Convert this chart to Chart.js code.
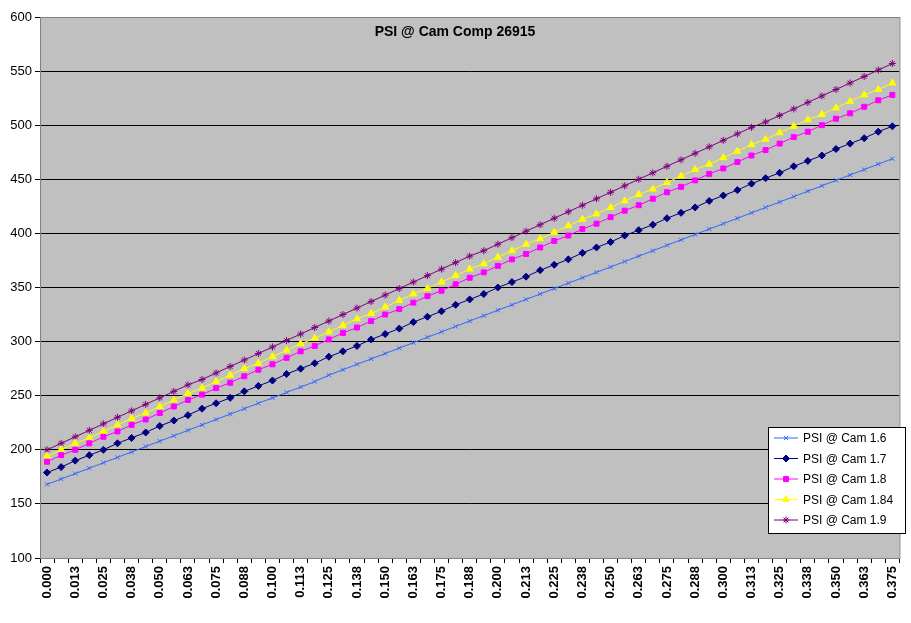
<!DOCTYPE html>
<html><head><script src="https://cdn.jsdelivr.net/npm/chart.js@4"></script>
<style>body{margin:0;background:#fff}#w{width:911px;height:623px}</style></head>
<body><div id="w"><canvas id="c"></canvas></div>
<script>
const categories = ["0.000","0.006","0.013","0.019","0.025","0.031","0.038","0.044","0.050","0.056","0.063","0.069","0.075","0.081","0.088","0.094","0.100","0.106","0.113","0.119","0.125","0.131","0.138","0.144","0.150","0.156","0.163","0.169","0.175","0.181","0.188","0.194","0.200","0.206","0.213","0.219","0.225","0.231","0.238","0.244","0.250","0.256","0.263","0.269","0.275","0.281","0.288","0.294","0.300","0.306","0.313","0.319","0.325","0.331","0.338","0.344","0.350","0.356","0.363","0.369","0.375"];
const cam16 = [168,173,178,183,188,193,198,203,208,213,218,223,228,233,238,243,248,253,258,263,269,274,279,284,289,294,299,304,309,314,319,324,329,334,339,344,349,354,359,364,369,374,379,384,389,394,399,404,409,414,419,424,429,434,439,444,449,454,459,464,469];
const cam17 = [179,184,190,195,200,206,211,216,222,227,232,238,243,248,254,259,264,270,275,280,286,291,296,302,307,312,318,323,328,334,339,344,350,355,360,366,371,376,382,387,392,398,403,408,414,419,424,430,435,440,446,451,456,462,467,472,478,483,488,494,499];
const cam18 = [189,195,200,206,212,217,223,228,234,240,246,251,257,262,268,274,279,285,291,296,302,308,313,319,325,330,336,342,347,353,359,364,370,376,381,387,393,398,404,409,415,421,426,432,438,443,449,455,460,466,472,477,483,489,494,500,506,511,517,523,528];
const cam184 = [194,200,206,211,217,223,229,234,240,246,252,257,263,269,275,280,286,292,298,303,309,315,321,326,332,338,344,349,355,361,367,372,378,384,390,395,401,407,413,418,424,430,436,441,447,453,459,464,470,476,482,487,493,499,505,510,516,522,528,533,539];
const cam19 = [200,206,212,218,224,230,236,242,248,254,260,265,271,277,283,289,295,301,307,313,319,325,331,337,343,349,355,361,367,373,379,384,390,396,402,408,414,420,426,432,438,444,450,456,462,468,474,480,486,492,498,503,509,515,521,527,533,539,545,551,557];
const seriesNames = ["PSI @ Cam 1.6","PSI @ Cam 1.7","PSI @ Cam 1.8","PSI @ Cam 1.84","PSI @ Cam 1.9"];
const styles = [
 {c:'#3366FF',p:'crossRot',r:3},
 {c:'#000080',p:'rectRot',r:3.5},
 {c:'#FF00FF',p:'rect',r:3.5},
 {c:'#FFFF00',p:'triangle',r:4},
 {c:'#800080',p:'star',r:3.5}];
const data=[cam16,cam17,cam18,cam184,cam19];
const F='Arial, "Liberation Sans"';
const bg={id:'bg',beforeDraw(ch){const a=ch.chartArea,x=ch.ctx;x.save();x.fillStyle='#C0C0C0';x.fillRect(a.left,a.top,a.right-a.left,a.bottom-a.top);x.restore();},
 afterDraw(ch){const a=ch.chartArea,x=ch.ctx;x.save();
  x.strokeStyle='#808080';x.lineWidth=1;x.strokeRect(a.left+0.5,a.top+0.5,a.right-a.left,a.bottom-a.top);
  x.fillStyle='#000';x.font='bold 14px '+F;x.textAlign='center';x.textBaseline='middle';
  x.fillText('PSI @ Cam Comp 26915',455,32);
  const L=768,T=427,W=137,H=106;x.fillStyle='#fff';x.fillRect(L,T,W,H);x.strokeStyle='#000';x.strokeRect(L+0.5,T+0.5,W,H);
  x.font='12px '+F;x.textAlign='left';
  seriesNames.forEach((n,i)=>{const y=T+11+i*20.5;const s=styles[i];
   x.strokeStyle=s.c;x.lineWidth=1;x.beginPath();x.moveTo(L+6,y);x.lineTo(L+30,y);x.stroke();
   x.fillStyle=s.c;x.strokeStyle=s.c;Chart.helpers.drawPoint(x,{pointStyle:s.p,radius:s.r,borderWidth:1},L+18,y);
   x.fillStyle='#000';x.fillText(n,L+35,y+1);});
  x.restore();}};
new Chart(document.getElementById('c'),{type:'line',
 data:{labels:categories,datasets:data.map((d,i)=>({label:seriesNames[i],data:d,borderColor:styles[i].c,backgroundColor:styles[i].c,borderWidth:1,pointStyle:styles[i].p,pointRadius:styles[i].r,pointBorderWidth:1,tension:0}))},
 options:{responsive:true,maintainAspectRatio:false,animation:false,devicePixelRatio:1,
  layout:{padding:{left:0,right:5,top:17,bottom:0}},
  plugins:{legend:{display:false},tooltip:{enabled:false}},
  scales:{
   x:{offset:true,afterFit(s){s.height=65;},grid:{display:true,drawOnChartArea:false,offset:true,color:'#000',tickLength:5},border:{color:'#000'},
      ticks:{color:'#000',autoSkip:false,maxRotation:90,minRotation:90,callback(v,i){return i%2===0?categories[i]:'';},font:{family:F,size:13,weight:'bold'}}},
   y:{min:100,max:600,afterFit(s){s.width=40;},ticks:{stepSize:50,color:'#000',font:{family:F,size:13}},
      grid:{color:'#000',lineWidth:1,drawTicks:true,tickLength:5},border:{color:'#000'}}}},
 plugins:[bg]});
</script></body></html>
